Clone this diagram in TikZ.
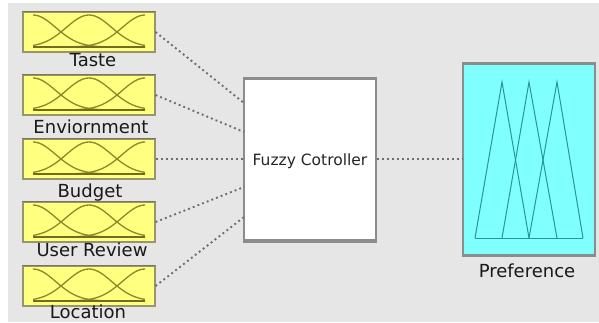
\documentclass[tikz,border=0pt]{standalone}
\usepackage{fontspec}
\setmainfont{DejaVu Sans}
\definecolor{bgray}{RGB}{230,230,230}
\definecolor{mfyellow}{RGB}{255,255,128}
\definecolor{mfedge}{RGB}{150,150,110}
\definecolor{mfcurve}{RGB}{140,135,40}
\definecolor{outcyan}{RGB}{128,255,255}
\definecolor{outedge}{RGB}{140,140,140}
\definecolor{tri}{RGB}{40,150,150}
\definecolor{wire}{RGB}{110,110,110}
\tikzset{
  inbox/.style={draw=mfedge, line width=1.2pt, fill=mfyellow, minimum width=132pt, minimum height=40pt, inner sep=0pt},
  mfline/.style={draw=mfcurve, line width=1.3pt},
  lbl/.style={anchor=base, font=\fontsize{18}{18}\selectfont, text=black!90, inner sep=0pt},
  wirestyle/.style={draw=wire, line width=1.9pt, dash pattern=on 1.9pt off 3.1pt},
}
% three bell-shaped membership functions drawn inside an input box
\newcommand{\bellset}[2]{%
  \foreach \c in {-56,0,56}{%
    \draw[mfline] plot[domain=-56:56, samples=45, smooth]
      ({#1+\x}, {#2+15-32*exp(-((\x-\c)*(\x-\c))/1040)});
  }
  \draw[draw=mfcurve!80!black, line width=2.2pt] (#1-56,#2+15) -- (#1+56,#2+15);
}
\begin{document}
\begin{tikzpicture}[x=1pt, y=-1pt]
\useasboundingbox (0,0) rectangle (599,322);
\fill[white] (0,0) rectangle (599,322);
\fill[bgray] (8,3) rectangle (599,322);

% input variables
\node[inbox] (in1) at (89,32) {};
\node[inbox] (in2) at (89,95) {};
\node[inbox] (in3) at (89,159) {};
\node[inbox] (in4) at (89,222) {};
\node[inbox] (in5) at (89,286) {};
\bellset{89}{32}
\bellset{89}{95}
\bellset{89}{159}
\bellset{89}{222}
\bellset{89}{286}
\foreach \n in {in1,in2,in3,in4,in5}{
  \draw[mfedge!80!black, line width=1.8pt] (\n.north west) -- (\n.north east);
}

\node[lbl] (l1) at (93,66) {Taste};
\node[lbl] (l2) at (91,133) {Enviornment};
\node[lbl] (l3) at (90,197) {Budget};
\node[lbl] (l4) at (92,256) {User Review};
\node[lbl] (l5) at (88,318) {Location};

% rule block
\node[draw=outedge, line width=1.5pt, fill=white, minimum width=132pt, minimum height=161pt, inner sep=0pt] (ctrl) at (310,159.5) {};
\draw[outedge, line width=3pt] (ctrl.north west) -- (ctrl.north east);
\draw[outedge, line width=3.5pt] (ctrl.south west) -- (ctrl.south east);
\node[font=\fontsize{15.5}{15.5}\selectfont, text=black!85, inner sep=0pt] (ctxt) at (310,161) {Fuzzy Cotroller};

% output variable
\node[draw=outedge, line width=1.5pt, fill=outcyan, minimum width=132pt, minimum height=191pt, inner sep=0pt] (out) at (529,159.5) {};
\draw[outedge, line width=3pt] (out.north west) -- (out.north east);
\draw[outedge, line width=2.5pt] (out.south west) -- (out.south east);
\draw[tri, line width=1pt] (475,238) -- (583,238);
\draw[tri, line width=1pt] (475,238) -- (502,82) -- (529,238);
\draw[tri, line width=1pt] (502,238) -- (529,82) -- (557,238);
\draw[tri, line width=1pt] (529,238) -- (557,82) -- (583,238);
\node[lbl] (lout) at (527,277) {Preference};

% connections into and out of the rule block
\coordinate (c1) at (244,103);
\coordinate (c2) at (244,132);
\coordinate (c3) at (244,159);
\coordinate (c4) at (244,187);
\coordinate (c5) at (244,217);
\draw[wirestyle] (in1.east) -- (c1);
\draw[wirestyle] (in2.east) -- (c2);
\draw[wirestyle] (in3.east) -- (c3);
\draw[wirestyle] (in4.east) -- (c4);
\draw[wirestyle] (in5.east) -- (c5);
\draw[wirestyle] (ctrl.east |- c3) -- (out.west |- c3);
\end{tikzpicture}
\end{document}
